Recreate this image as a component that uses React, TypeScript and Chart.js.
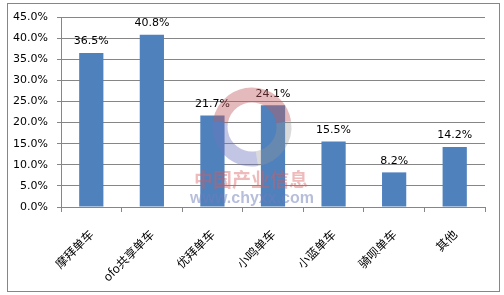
import React, { useEffect, useRef } from "react";
import { Chart, registerables } from "chart.js";

Chart.register(...registerables);

const categories = ["摩拜单车", "ofo共享单车", "优拜单车", "小鸣单车", "小蓝单车", "骑呗单车", "其他"];
const shares = [36.5, 40.8, 21.7, 24.1, 15.5, 8.2, 14.2];
const yTicks = [0, 5, 10, 15, 20, 25, 30, 35, 40, 45];

const frameAndLabels = {
  id: "frameAndLabels",
  beforeDraw(chart: any) {
    const { ctx } = chart;
    ctx.save();
    ctx.fillStyle = "#ffffff";
    ctx.fillRect(0, 0, chart.width, chart.height);
    ctx.strokeStyle = "#868686";
    ctx.lineWidth = 1;
    ctx.strokeRect(7.5, 3.5, 492, 288);
    ctx.restore();
  },
  afterDatasetsDraw(chart: any) {
    const { ctx } = chart;
    const meta = chart.getDatasetMeta(0);
    ctx.save();
    ctx.font = "11px 'DejaVu Sans'";
    ctx.fillStyle = "#000";
    ctx.textAlign = "center";
    ctx.textBaseline = "bottom";
    meta.data.forEach((bar: any, i: number) => {
      ctx.fillText(shares[i].toFixed(1) + "%", bar.x, bar.y - 6);
    });
    // watermark
    const cx = 252, cy = 127, r = 32;
    ctx.lineWidth = 15;
    ctx.strokeStyle = "rgba(190,90,95,0.42)";
    ctx.beginPath();
    ctx.arc(cx, cy, r, Math.PI * 1.05, Math.PI * 1.95);
    ctx.stroke();
    ctx.strokeStyle = "rgba(150,150,150,0.35)";
    ctx.beginPath();
    ctx.arc(cx, cy, r, Math.PI * 1.95, Math.PI * 2.45);
    ctx.stroke();
    ctx.strokeStyle = "rgba(110,120,190,0.42)";
    ctx.beginPath();
    ctx.arc(cx, cy, r, Math.PI * 0.45, Math.PI * 1.05);
    ctx.stroke();
    ctx.fillStyle = "rgba(215,90,90,0.42)";
    ctx.font = "bold 19px 'Noto Sans CJK SC'";
    ctx.textAlign = "center";
    ctx.textBaseline = "middle";
    ctx.fillText("中国产业信息", 251, 180);
    ctx.fillStyle = "rgba(110,125,185,0.5)";
    ctx.font = "bold 16px 'Liberation Sans'";
    ctx.fillText("www.chyxx.com", 252, 199);
    ctx.restore();
  },
};

export default function App() {
  const ref = useRef<HTMLCanvasElement>(null);
  useEffect(() => {
    document.body.style.margin = "0";
    const chart = new Chart(ref.current!, {
      type: "bar",
      data: {
        labels: categories,
        datasets: [
          {
            data: shares,
            backgroundColor: "#4F81BD",
            categoryPercentage: 1,
            barPercentage: 0.4,
          },
        ],
      },
      options: {
        animation: false,
        responsive: false,
        devicePixelRatio: 1,
        layout: { padding: { top: 17, right: 19, left: 0, bottom: 0 } },
        plugins: { legend: { display: false }, tooltip: { enabled: false } },
        scales: {
          x: {
            grid: { display: true, drawOnChartArea: false, color: "#868686", tickLength: 5, offset: true },
            border: { color: "#868686" },
            ticks: {
              minRotation: 45,
              maxRotation: 45,
              padding: 15,
              color: "#000",
              font: { family: "'Noto Sans CJK SC'", size: 12 },
            },
            afterFit(scale: any) {
              scale.height = 88;
            },
          },
          y: {
            min: 0,
            max: 45,
            afterBuildTicks(scale: any) {
              scale.ticks = yTicks.map((v) => ({ value: v }));
            },
            grid: { color: "#868686", tickLength: 4 },
            border: { color: "#868686" },
            ticks: {
              padding: 9,
              color: "#000",
              font: { family: "'DejaVu Sans'", size: 11 },
              callback: (v: any) => Number(v).toFixed(1) + "%",
            },
            afterFit(scale: any) {
              scale.width = 61;
            },
          },
        },
      },
      plugins: [frameAndLabels],
    });
    return () => chart.destroy();
  }, []);
  return <canvas ref={ref} width={504} height={295} style={{ display: "block" }} />;
}
